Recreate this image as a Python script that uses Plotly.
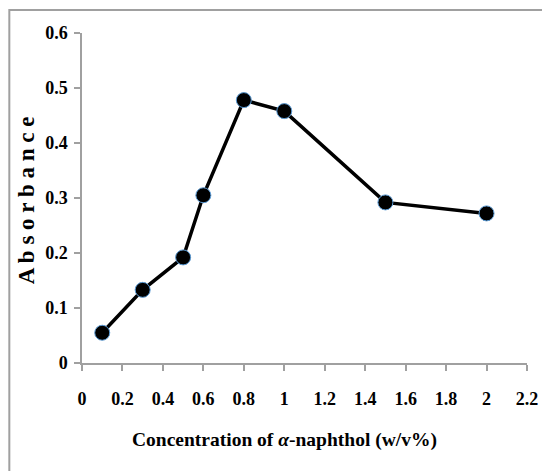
import plotly.graph_objects as go

concentration = [0.1, 0.3, 0.5, 0.6, 0.8, 1.0, 1.5, 2.0]
absorbance = [0.055, 0.133, 0.192, 0.305, 0.478, 0.458, 0.292, 0.272]

x_ticks = [0, 0.2, 0.4, 0.6, 0.8, 1, 1.2, 1.4, 1.6, 1.8, 2, 2.2]
y_ticks = [0, 0.1, 0.2, 0.3, 0.4, 0.5, 0.6]

font_family = "Liberation Serif"

fig = go.Figure()
fig.add_trace(go.Scatter(
    x=concentration, y=absorbance, mode="lines+markers",
    line=dict(color="black", width=3.5),
    marker=dict(symbol="circle", size=15, color="black",
                line=dict(color="#5b9bd5", width=1)),
    showlegend=False,
))

axis_common = dict(
    showgrid=False, zeroline=False, showline=True, linecolor="#a0a0a0", linewidth=1.5,
    ticks="outside", ticklen=6, tickcolor="#a0a0a0", tickwidth=1.5,
    tickfont=dict(family=font_family, size=18, color="black", weight="bold"),
)

fig.update_xaxes(range=[0, 2.2], tickvals=x_ticks,
                 ticktext=[f"{v:g}" for v in x_ticks],
                 ticklabelstandoff=13,
                 **axis_common)
fig.update_yaxes(range=[0, 0.6], tickvals=y_ticks,
                 ticktext=[f"{v:g}" for v in y_ticks],
                 ticklabelstandoff=3,
                 **axis_common)

fig.add_annotation(text="Concentration of <i>α</i>-naphthol (w/v%)", xref="paper", yref="paper",
                   x=203/447, y=-77/330, showarrow=False,
                   xanchor="center", yanchor="middle",
                   font=dict(family=font_family, size=19.5, color="black", weight="bold"))

fig.add_annotation(text="A b s o r b a n c e", xref="paper", yref="paper",
                   x=-55/447, y=0.494, textangle=-90, showarrow=False,
                   xanchor="center", yanchor="middle",
                   font=dict(family=font_family, size=23, color="black", weight="bold"))

fig.add_shape(type="rect", xref="paper", yref="paper",
              x0=-73/447, x1=1.2, y0=-0.5, y1=1 + 23/330,
              line=dict(color="#a0a0a0", width=2), fillcolor="rgba(0,0,0,0)", layer="below")

fig.update_layout(
    width=542, height=463,
    margin=dict(l=74, r=21, t=25, b=108),
    plot_bgcolor="white", paper_bgcolor="white",
)

fig.write_html("out.html")
